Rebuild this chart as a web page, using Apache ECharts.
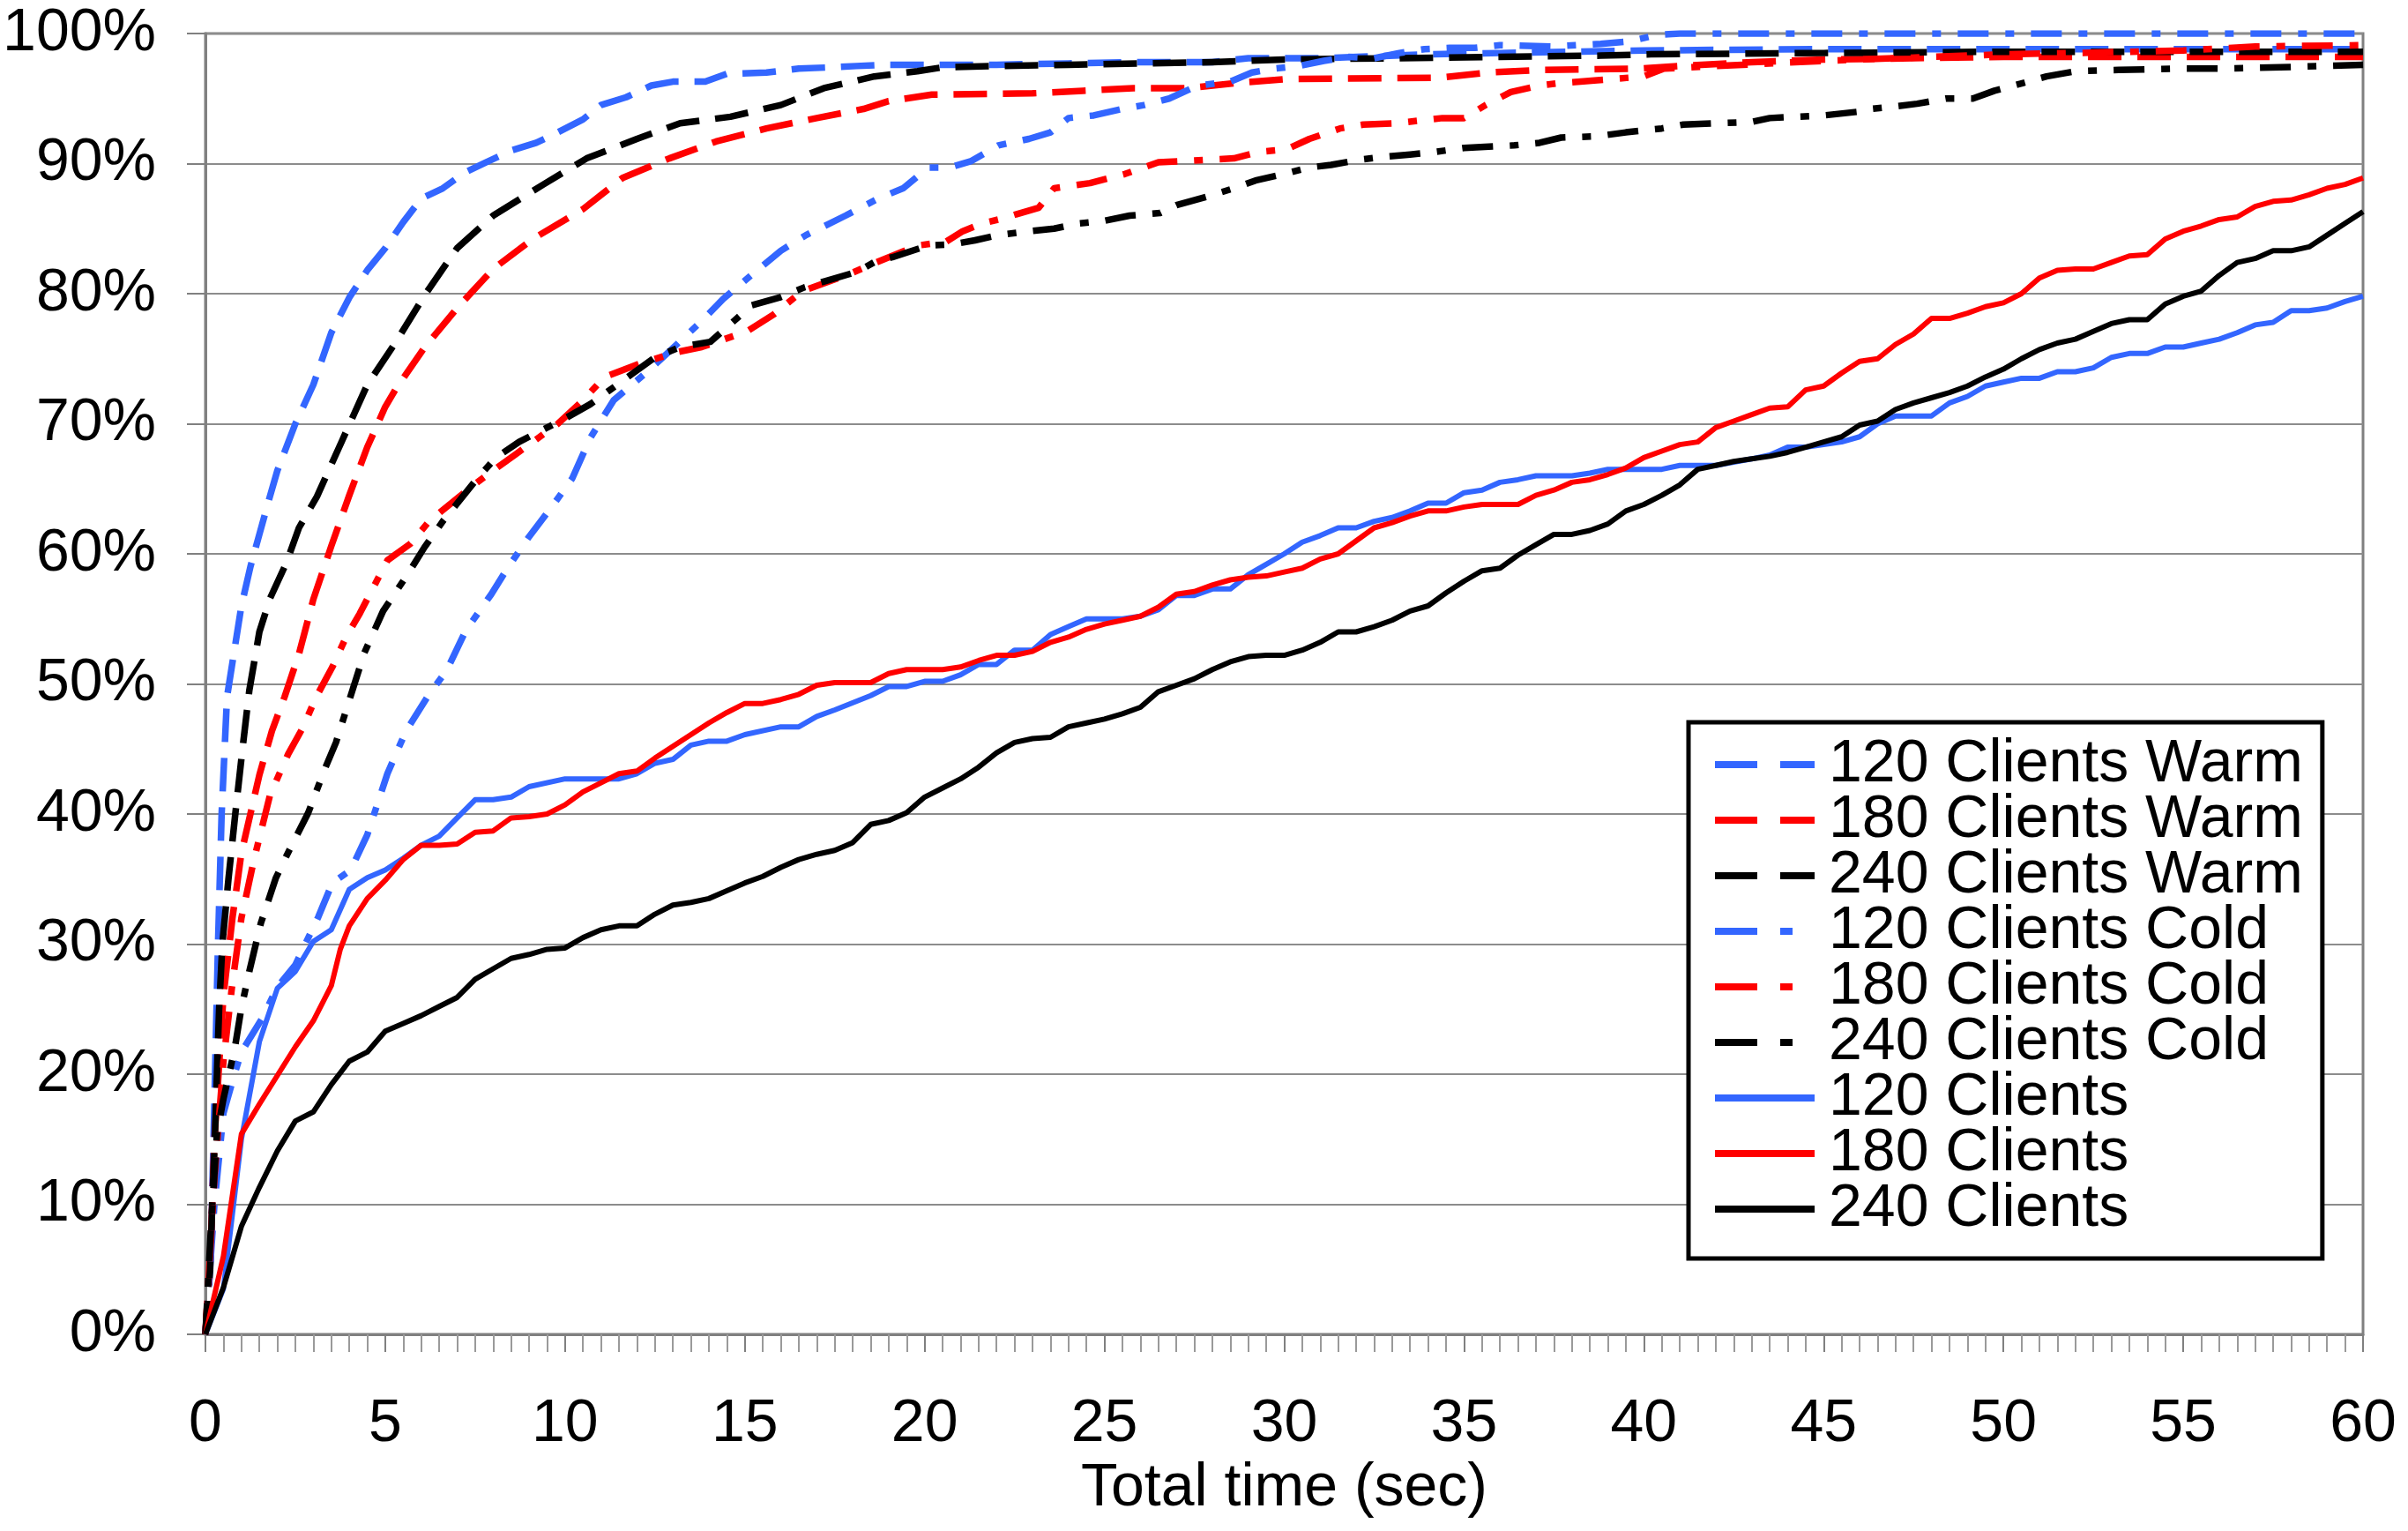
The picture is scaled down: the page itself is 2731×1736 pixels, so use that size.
<!DOCTYPE html>
<html>
<head>
<meta charset="utf-8">
<script src="https://cdn.jsdelivr.net/npm/echarts@6/dist/echarts.min.js"></script>
<style>
html,body{margin:0;padding:0;background:#fff;}
#chart{width:2731px;height:1736px;}
</style>
</head>
<body>
<div id="chart"></div>
<script>
// Series names (legend order)
const seriesNames = ['120 Clients Warm','180 Clients Warm','240 Clients Warm','120 Clients Cold','180 Clients Cold','240 Clients Cold','120 Clients','180 Clients','240 Clients'];

// [time (sec), cumulative %]
const warm120 = [[0,0],[0.15,6],[0.25,18],[0.35,30],[0.45,40],[0.6,49],[0.8,52.5],[1,56],[1.25,59],[1.5,61.5],[1.75,64],[2,66.4],[2.5,70],[3,73],[3.5,77],[4,79.7],[4.5,81.8],[5,83.5],[5.5,85.5],[6,87.3],[6.6,88.1],[7.2,89.3],[7.8,90.1],[8.5,91],[9.2,91.6],[9.8,92.4],[10.5,93.4],[11,94.5],[11.7,95.1],[12.4,96],[13,96.3],[13.9,96.3],[14.5,96.9],[15.6,97],[16.5,97.3],[17.4,97.4],[18.1,97.5],[18.9,97.6],[20,97.6],[22,97.6],[24,97.7],[26,97.8],[28,97.8],[29,98.1],[31,98.1],[32,98.2],[34,98.4],[36,98.5],[40,98.7],[45,98.8],[50,98.8],[55,98.8],[60,98.8]];
const warm180 = [[0,0],[0.15,7],[0.25,15],[0.5,26],[0.75,32],[1,37],[1.5,43],[1.85,46.4],[2.2,49],[2.6,52.3],[3,56.5],[3.5,60.6],[4,64.5],[4.5,68.2],[5,71.3],[5.3,72.7],[6.1,75.9],[7,78.9],[8,81.9],[9.1,84.2],[10.5,86.5],[11.6,88.9],[12.9,90.4],[14.2,91.7],[15.6,92.7],[17,93.5],[18.3,94.2],[19,94.8],[20.2,95.3],[23,95.4],[24.4,95.6],[25.8,95.8],[27.3,95.8],[28.7,96.2],[30.1,96.5],[34.3,96.6],[35.7,97],[37.1,97.2],[39.9,97.3],[41,97.5],[43,97.8],[45,98],[50,98.2],[60,98.2]];
const warm240 = [[0,0],[0.13,5],[0.19,10],[0.26,15],[0.32,20],[0.38,25],[0.47,30],[0.64,35],[0.83,40],[1.03,45],[1.22,49.5],[1.5,54],[1.8,56.6],[2.25,59.3],[2.6,62],[3.1,64.4],[3.8,68.7],[4.5,73],[5.3,76.3],[6.1,79.9],[7,83.5],[8,86],[9.4,88.4],[10.6,90.4],[12,91.9],[13.2,93.1],[14.6,93.6],[16,94.5],[17.2,95.8],[18.6,96.7],[19.8,97.1],[20.5,97.4],[22,97.5],[24,97.6],[26,97.7],[28,97.8],[30,98],[33,98.1],[36,98.2],[38.8,98.3],[40.2,98.4],[45,98.5],[50,98.6],[60,98.6]];
const cold120 = [[0,0],[0.25,10],[0.5,17],[0.83,20.2],[1,21.7],[1.6,24.4],[2,26.7],[2.5,28.4],[3.14,32.1],[3.53,34.7],[4.04,35.7],[4.5,38.4],[5.06,43.1],[5.58,46.4],[6.22,49.2],[6.7,51],[7.24,54.1],[7.95,56.9],[8.4,58.9],[8.97,61.2],[9.68,63.8],[10.2,65.8],[10.7,68.9],[11.35,71.8],[12.2,73.8],[12.8,75.3],[13.8,77.9],[14.4,79.6],[15.3,81.7],[16,83.3],[16.7,84.5],[17.8,86],[18.7,87.3],[19.4,88.1],[20.1,89.7],[20.7,89.7],[21.3,90.2],[22.05,91.4],[22.9,91.9],[23.5,92.4],[24,93.5],[24.7,93.7],[25.5,94.2],[26.1,94.5],[26.8,95],[27.6,96],[28.5,96.3],[29.1,97],[29.7,97.3],[30.4,97.5],[31.1,97.9],[31.8,98.2],[32.5,98.1],[33.2,98.5],[33.9,98.8],[34.6,98.9],[35.3,98.9],[36,99.1],[37.5,99],[38.1,99.1],[38.8,99.2],[39.6,99.4],[40.4,99.9],[41,100],[60,100]];
const cold180 = [[0,0],[0.25,12],[0.5,21],[0.75,27],[1,32],[1.35,36.5],[1.8,41.5],[2.3,44.6],[2.7,46.6],[3.08,49],[3.53,51.3],[3.91,53.6],[4.29,55.4],[5.06,59.5],[5.71,60.8],[6.22,62.5],[7.37,65.1],[8,66.4],[8.65,67.7],[9.8,70],[10.5,71.8],[11.1,73.6],[12.05,74.6],[13.1,75.5],[13.8,75.9],[15.06,77.1],[15.8,78.4],[16.6,80.2],[17.9,81.5],[18.65,82.4],[19.8,83.7],[20.6,84],[21.06,84.8],[21.6,85.4],[22.2,85.8],[22.54,86.1],[23.17,86.6],[23.6,88.1],[24.6,88.5],[25.57,89.2],[26.5,90.1],[28.6,90.4],[29.3,90.9],[30.07,91.1],[30.7,91.9],[31.55,92.7],[32.2,93],[33.1,93.1],[34.4,93.5],[35,93.5],[35.6,94.5],[36.3,95.5],[37.1,96],[37.7,96.2],[38.7,96.4],[40,96.7],[40.56,97.3],[42,97.5],[45,97.9],[48,98.2],[50,98.4],[52,98.5],[55,98.7],[57,99],[60,99.1]];
const cold240 = [[0,0],[0.15,8],[0.32,15.4],[0.5,18.1],[0.81,21.9],[1,25.1],[1.22,27.9],[1.54,31.6],[1.96,35.1],[2.31,37.1],[2.86,40.1],[3.31,43.4],[3.63,45.5],[4.04,49.1],[4.42,52.4],[4.94,55.6],[5.64,58.5],[6.09,60.5],[6.6,62.5],[7.56,65.8],[8.08,67.4],[8.72,68.6],[10.06,70.5],[10.7,71.5],[11.2,72.5],[12.5,75.1],[13.2,75.9],[14.04,76.3],[15.19,79.1],[15.96,79.7],[16.67,80.5],[18.14,81.7],[18.65,82.5],[19.1,82.8],[20.1,83.7],[20.8,83.8],[21.4,84.1],[22.05,84.5],[22.9,84.8],[23.6,85],[24.3,85.4],[25,85.6],[25.7,86],[26.55,86.2],[27,86.8],[27.9,87.5],[28.6,88.1],[29.2,88.7],[30,89.2],[30.7,89.7],[31.3,89.9],[32.1,90.3],[32.7,90.5],[33.5,90.7],[34.2,90.9],[35,91.2],[36.4,91.4],[37.1,91.6],[37.7,92],[38.7,92.1],[39.5,92.4],[40.5,92.7],[41.1,93],[42,93.1],[43,93.2],[43.5,93.5],[45,93.7],[46,94],[46.3,94.2],[47,94.4],[47.6,94.6],[48.4,95],[49.15,95],[49.75,95.6],[50.55,96.2],[51.2,96.7],[52,97.1],[53.2,97.2],[54.8,97.3],[56,97.3],[57.7,97.4],[58.8,97.5],[60,97.6]];
const base120 = [[0,0],[0.5,3.5],[1,15],[1.5,22.5],[2,26.6],[2.5,27.9],[3,30.2],[3.5,31.1],[4,34.2],[4.5,35.1],[5,35.7],[5.5,36.6],[6,37.6],[6.5,38.3],[7,39.7],[7.5,41.1],[8,41.1],[8.5,41.3],[9,42.1],[10,42.7],[11.5,42.7],[12,43.1],[12.5,43.9],[13,44.2],[13.5,45.3],[14,45.6],[14.5,45.6],[15,46.1],[16,46.7],[16.5,46.7],[17,47.5],[17.5,48],[18.5,49.1],[19,49.8],[19.5,49.8],[20,50.2],[20.5,50.2],[21,50.7],[21.5,51.5],[22,51.5],[22.5,52.6],[23,52.6],[23.5,53.8],[24,54.4],[24.5,55],[25.5,55],[26,55.2],[26.5,55.7],[27,56.8],[27.5,56.8],[28,57.3],[28.5,57.3],[29,58.4],[29.5,59.2],[30,60],[30.5,60.9],[31,61.4],[31.5,62],[32,62],[32.5,62.5],[33,62.8],[33.5,63.3],[34,63.9],[34.5,63.9],[35,64.7],[35.5,64.9],[36,65.5],[36.5,65.7],[37,66],[38,66],[38.5,66.2],[39,66.5],[40.5,66.5],[41,66.8],[42,66.8],[43,67.3],[43.5,67.6],[44,68.2],[44.5,68.2],[45,68.4],[45.5,68.6],[46,69],[46.5,70],[47,70.6],[48,70.6],[48.5,71.6],[49,72.1],[49.5,72.9],[50,73.2],[50.5,73.5],[51,73.5],[51.5,74],[52,74],[52.5,74.3],[53,75.1],[53.5,75.4],[54,75.4],[54.5,75.9],[55,75.9],[55.5,76.2],[56,76.5],[56.5,77],[57,77.6],[57.5,77.8],[58,78.7],[58.5,78.7],[59,78.9],[59.5,79.4],[60,79.8]];
const base180 = [[0,0],[0.5,6],[1,15.4],[1.5,17.7],[2,19.9],[2.5,22.1],[3,24.1],[3.5,26.8],[3.75,29.6],[4,31.4],[4.5,33.5],[5,34.9],[5.5,36.5],[6,37.6],[6.5,37.6],[7,37.7],[7.5,38.6],[8,38.7],[8.5,39.7],[9,39.8],[9.5,40],[10,40.7],[10.5,41.7],[11,42.4],[11.5,43.1],[12,43.3],[12.5,44.3],[13,45.2],[13.5,46.1],[14,47],[14.5,47.8],[15,48.5],[15.5,48.5],[16,48.8],[16.5,49.2],[17,49.9],[17.5,50.1],[18.5,50.1],[19,50.8],[19.5,51.1],[20.5,51.1],[21,51.3],[21.5,51.8],[22,52.2],[22.5,52.2],[23,52.5],[23.5,53.2],[24,53.6],[24.5,54.2],[25,54.6],[25.5,54.9],[26,55.2],[26.5,55.9],[27,56.9],[27.5,57.1],[28,57.6],[28.5,58],[29,58.2],[29.5,58.3],[30,58.6],[30.5,58.9],[31,59.6],[31.5,60],[32,61],[32.5,62],[33,62.4],[33.5,62.9],[34,63.3],[34.5,63.3],[35,63.6],[35.5,63.8],[36.5,63.8],[37,64.5],[37.5,64.9],[38,65.5],[38.5,65.7],[39,66.1],[39.5,66.6],[40,67.4],[40.5,67.9],[41,68.4],[41.5,68.6],[42,69.7],[42.5,70.2],[43,70.7],[43.5,71.2],[44,71.3],[44.5,72.6],[45,72.9],[45.5,73.9],[46,74.8],[46.5,75],[47,76.1],[47.5,76.9],[48,78.1],[48.5,78.1],[49,78.5],[49.5,79],[50,79.3],[50.5,80],[51,81.2],[51.5,81.8],[52,81.9],[52.5,81.9],[53,82.4],[53.5,82.9],[54,83],[54.5,84.2],[55,84.8],[55.5,85.2],[56,85.7],[56.5,85.9],[57,86.7],[57.5,87.1],[58,87.2],[58.5,87.6],[59,88.1],[59.5,88.4],[60,88.9]];
const base240 = [[0,0],[0.5,3.6],[1,8.3],[1.5,11.3],[2,14.1],[2.5,16.4],[3,17.1],[3.5,19.2],[4,21],[4.5,21.7],[5,23.3],[5.5,23.9],[6,24.5],[6.5,25.2],[7,25.9],[7.5,27.3],[8,28.1],[8.5,28.9],[9,29.2],[9.5,29.6],[10,29.7],[10.5,30.5],[11,31.1],[11.5,31.4],[12,31.4],[12.5,32.3],[13,33],[13.5,33.2],[14,33.5],[14.5,34.1],[15,34.7],[15.5,35.2],[16,35.9],[16.5,36.5],[17,36.9],[17.5,37.2],[18,37.8],[18.5,39.2],[19,39.5],[19.5,40.1],[20,41.3],[20.5,42],[21,42.7],[21.5,43.6],[22,44.7],[22.5,45.5],[23,45.8],[23.5,45.9],[24,46.7],[24.5,47],[25,47.3],[25.5,47.7],[26,48.2],[26.5,49.4],[27,49.9],[27.5,50.4],[28,51.1],[28.5,51.7],[29,52.1],[29.5,52.2],[30,52.2],[30.5,52.6],[31,53.2],[31.5,54],[32,54],[32.5,54.4],[33,54.9],[33.5,55.6],[34,56],[34.5,57],[35,57.9],[35.5,58.7],[36,58.9],[36.5,59.9],[37,60.7],[37.5,61.5],[38,61.5],[38.5,61.8],[39,62.3],[39.5,63.3],[40,63.8],[40.5,64.5],[41,65.3],[41.5,66.5],[42,66.8],[42.5,67.1],[43,67.3],[43.5,67.5],[44,67.8],[44.5,68.2],[45,68.6],[45.5,69],[46,69.9],[46.5,70.2],[47,71.1],[47.5,71.6],[48,72],[48.5,72.4],[49,72.9],[49.5,73.6],[50,74.2],[50.5,75],[51,75.7],[51.5,76.2],[52,76.5],[52.5,77.1],[53,77.7],[53.5,78],[54,78],[54.5,79.2],[55,79.8],[55.5,80.2],[56,81.4],[56.5,82.4],[57,82.7],[57.5,83.3],[58,83.3],[58.5,83.6],[59,84.5],[59.5,85.4],[60,86.3]];

const seriesData = [warm120, warm180, warm240, cold120, cold180, cold240, base120, base180, base240];
const seriesColors = ['#3366FF','#FF0000','#000000','#3366FF','#FF0000','#000000','#3366FF','#FF0000','#000000'];
const seriesKinds = ['warm','warm','warm','cold','cold','cold','solid','solid','solid'];

const dashByKind = { warm: [38, 18], cold: [35, 19, 10, 19], solid: 'solid' };
const widthByKind = { warm: 7.5, cold: 7.5, solid: 6 };
const legendDashByKind = { warm: [48, 26], cold: [48, 26, 14, 200], solid: 'solid' };

const FONT = 'Liberation Sans, Arial, sans-serif';
const chart = echarts.init(document.getElementById('chart'), null, { renderer: 'canvas' });

const series = seriesNames.map((name, i) => ({
  name: name,
  type: 'line',
  data: seriesData[i],
  symbol: 'none',
  showSymbol: false,
  clip: true,
  color: seriesColors[i],
  itemStyle: { color: seriesColors[i] },
  lineStyle: { color: seriesColors[i], width: widthByKind[seriesKinds[i]], type: dashByKind[seriesKinds[i]], cap: 'butt', join: 'round' },
  emphasis: { disabled: true },
  z: 3
}));

chart.setOption({
  animation: false,
  backgroundColor: '#ffffff',
  textStyle: { fontFamily: FONT },
  grid: { left: 233, right: 51, top: 38, bottom: 223, show: true, borderColor: '#808080', borderWidth: 3, backgroundColor: 'transparent' },
  xAxis: {
    type: 'value', min: 0, max: 60, interval: 5,
    name: 'Total time (sec)', nameLocation: 'middle', nameGap: 141,
    nameTextStyle: { fontSize: 68, color: '#000', fontFamily: FONT },
    axisLine: { show: true, lineStyle: { color: '#808080', width: 3 } },
    axisTick: { show: true, length: 20, lineStyle: { color: '#808080', width: 2 } },
    minorTick: { show: true, splitNumber: 10, length: 20, lineStyle: { color: '#9a9a9a', width: 2 } },
    axisLabel: { fontSize: 68, color: '#000', margin: 68, fontFamily: FONT },
    splitLine: { show: false }
  },
  yAxis: {
    type: 'value', min: 0, max: 100, interval: 10,
    axisLabel: { formatter: '{value}%', fontSize: 68, color: '#000', margin: 56, fontFamily: FONT },
    axisLine: { show: true, lineStyle: { color: '#808080', width: 3 } },
    axisTick: { show: true, length: 21, lineStyle: { color: '#808080', width: 2 } },
    splitLine: { show: true, lineStyle: { color: '#8c8c8c', width: 2 } }
  },
  legend: {
    orient: 'vertical',
    left: 1915, top: 819,
    padding: [14, 22, 22, 26],
    itemGap: -5,
    itemWidth: 113, itemHeight: 20,
    backgroundColor: '#ffffff',
    borderColor: '#000000', borderWidth: 5,
    selectedMode: false,
    textStyle: { fontSize: 68, color: '#000', fontFamily: FONT, padding: [0, 0, 0, 11] },
    data: seriesNames.map((n, i) => ({
      name: n,
      itemStyle: { opacity: 0, color: 'rgba(0,0,0,0)', borderWidth: 0 },
      lineStyle: { color: seriesColors[i], width: 8, type: legendDashByKind[seriesKinds[i]], cap: 'butt', opacity: 1 }
    }))
  },
  series: series
});
</script>
</body>
</html>
